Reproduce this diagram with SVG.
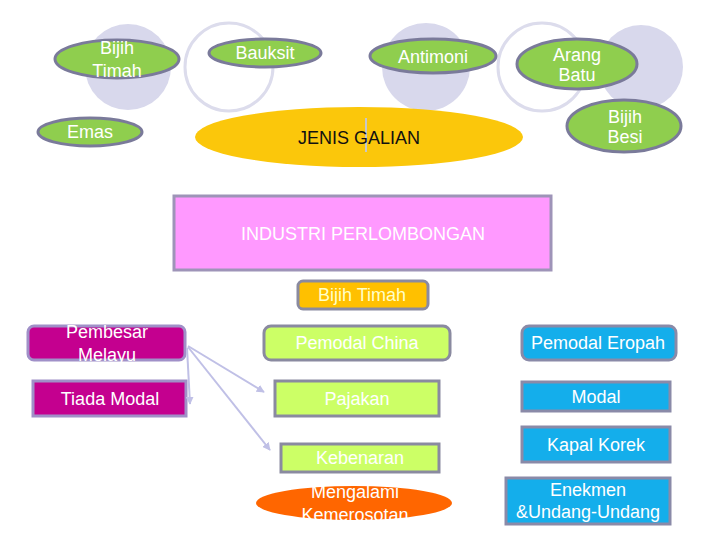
<svg xmlns="http://www.w3.org/2000/svg" width="720" height="540" viewBox="0 0 720 540">
<defs>
<style>
text{font-family:"Liberation Sans",Arial,sans-serif;font-size:18px;text-anchor:middle;fill:#ffffff}
.bgf{fill:#d8d8ec}
.bgo{fill:none;stroke:#dcdcec;stroke-width:3}
.green{fill:#8fce4e;stroke:#7a7a9a;stroke-width:3}
.lime{fill:#ccff66;stroke:#8a8aa0;stroke-width:3}
.mag{fill:#c4008f;stroke:#a090c8;stroke-width:3}
.blue{fill:#14aeeb;stroke:#8a8aa8;stroke-width:3}
.conn{stroke:#c0c0e6;stroke-width:2;fill:none;marker-end:url(#ah)}
</style>
<marker id="ah" viewBox="0 0 10 10" refX="9" refY="5" markerWidth="4" markerHeight="4" orient="auto"><path d="M0,0 L10,5 L0,10 z" fill="#c0c0e6"/></marker>
</defs>
<rect width="720" height="540" fill="#ffffff"/>
<g id="decor">
<circle class="bgf" cx="128" cy="67" r="43"/>
<circle class="bgo" cx="229" cy="67" r="44"/>
<circle class="bgf" cx="426" cy="67" r="44"/>
<circle class="bgo" cx="542" cy="67" r="44"/>
<circle class="bgf" cx="641" cy="67" r="42"/>
</g>
<g id="bijih-timah-top"><ellipse class="green" cx="117" cy="59" rx="62" ry="19"/><text x="117" y="54">Bijih</text><text x="117" y="77">Timah</text></g>
<g id="bauksit"><ellipse class="green" cx="265" cy="53" rx="56" ry="14"/><text x="265" y="59">Bauksit</text></g>
<g id="emas"><ellipse class="green" cx="90" cy="132" rx="52" ry="14"/><text x="90" y="138">Emas</text></g>
<g id="antimoni"><ellipse class="green" cx="433" cy="56" rx="63" ry="17"/><text x="433" y="63">Antimoni</text></g>
<g id="arang-batu"><ellipse class="green" cx="577" cy="64" rx="60" ry="25"/><text x="577" y="61">Arang</text><text x="577" y="81">Batu</text></g>
<g id="bijih-besi"><ellipse class="green" cx="624" cy="126" rx="57" ry="26"/><text x="625" y="123">Bijih</text><text x="625" y="143">Besi</text></g>
<g id="jenis-galian"><ellipse cx="359" cy="137" rx="164" ry="30" fill="#fbc70b"/><line x1="366" y1="118" x2="366" y2="152" stroke="#c8c8c8" stroke-width="2"/><text x="359" y="144" style="fill:#111111">JENIS GALIAN</text></g>
<g id="industri"><rect x="174" y="196" width="377" height="74" fill="#ff99ff" stroke="#9e94b8" stroke-width="3"/><text x="363" y="240">INDUSTRI PERLOMBONGAN</text></g>
<g id="bijih-timah"><rect x="298" y="281" width="130" height="28" rx="5" fill="#ffc000" stroke="#8a8aa0" stroke-width="3"/><text x="362" y="301" style="fill:#ffffc8">Bijih Timah</text></g>
<g id="pembesar-melayu"><rect x="28" y="326" width="157" height="34" rx="6" class="mag"/><text x="107" y="338">Pembesar</text><text x="107" y="361">Melayu</text></g>
<g id="tiada-modal"><rect x="33" y="381" width="153" height="35" class="mag"/><text x="110" y="405">Tiada Modal</text></g>
<g id="pemodal-china"><rect x="264" y="326" width="186" height="34" rx="7" class="lime"/><text x="357" y="349">Pemodal China</text></g>
<g id="pajakan"><rect x="275" y="381" width="164" height="35" class="lime"/><text x="357" y="405">Pajakan</text></g>
<g id="kebenaran"><rect x="281" y="444" width="158" height="28" class="lime"/><text x="360" y="464">Kebenaran</text></g>
<g id="kemerosotan"><ellipse cx="354" cy="503" rx="98" ry="17" fill="#ff6600"/><text x="355" y="498">Mengalami</text><text x="355" y="521">Kemerosotan</text></g>
<g id="pemodal-eropah"><rect x="522" y="326" width="154" height="34" rx="7" class="blue"/><text x="598" y="349">Pemodal Eropah</text></g>
<g id="modal"><rect x="522" y="382" width="148" height="29" class="blue"/><text x="596" y="403">Modal</text></g>
<g id="kapal-korek"><rect x="522" y="427" width="148" height="35" class="blue"/><text x="596" y="451">Kapal Korek</text></g>
<g id="enekmen"><rect x="506" y="478" width="164" height="46" class="blue"/><text x="588" y="496">Enekmen</text><text x="588" y="518">&amp;Undang-Undang</text></g>
<g id="connectors">
<path class="conn" d="M187,348 L190,404"/>
<path class="conn" d="M188,346 L264,392"/>
<path class="conn" d="M188,347 L270,450"/>
</g>
</svg>
